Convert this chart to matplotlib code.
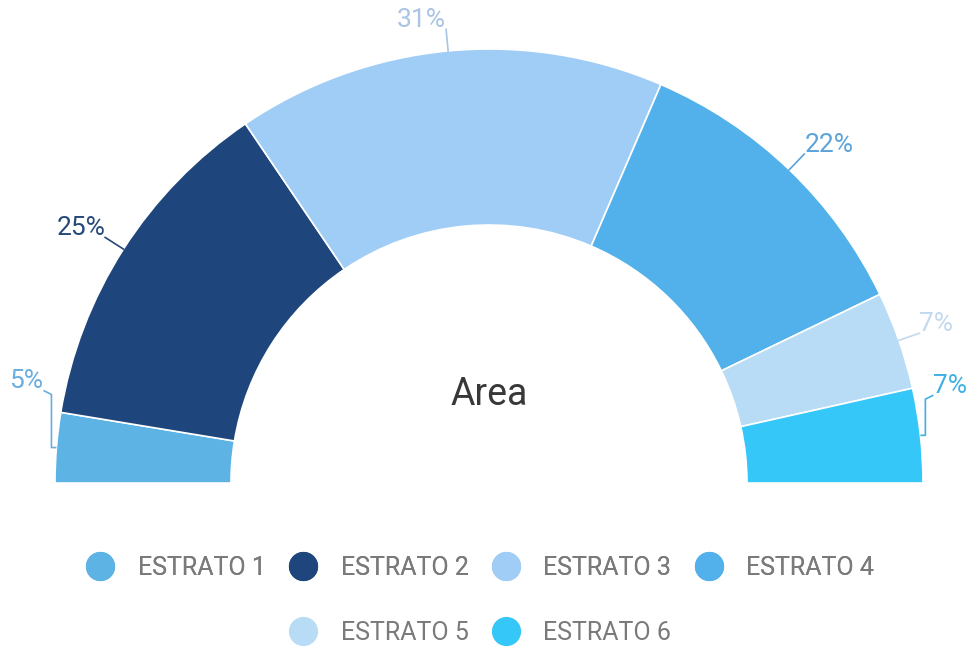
import numpy as np
import matplotlib.pyplot as plt
from matplotlib.lines import Line2D

plt.rcParams['font.family'] = ['Roboto', 'DejaVu Sans']

# data (share of each stratum, %)
categories = ['ESTRATO 1', 'ESTRATO 2', 'ESTRATO 3', 'ESTRATO 4', 'ESTRATO 5', 'ESTRATO 6']
shares = [5.2, 25.8, 31.9, 22.7, 7.3, 7.0]
colors = ['#5cb3e4', '#1f467c', '#a0cdf5', '#52b0ea', '#b8dcf6', '#34c7f8']
label_colors = ['#6aaedf', '#26497a', '#a9c4e4', '#5aa3dc', '#c2d9ef', '#3fb0e4']
title = 'Area'

W, H = 969, 647
R_PX = 434          # outer radius in pixels
RING_PX = 176       # ring thickness
CX, CY = 489, 483   # centre, pixels from top-left
px = 1.0 / R_PX

# small slices get a bent connector, label pushed upward to this angle
bracket_angles = {0: 168.8, 5: 10.6}

fig = plt.figure(figsize=(W / 100, H / 100), dpi=100)
ax = fig.add_axes([0, 0, 1, 1])

# hidden lower half makes the pie a semicircle
wedges, _ = ax.pie(shares + [sum(shares)], colors=colors + ['none'],
                   startangle=180, counterclock=False, radius=1.0,
                   wedgeprops=dict(width=RING_PX * px, edgecolor='white', linewidth=1.2))
wedges[-1].set_visible(False)

ax.set_xlim(-CX * px, (W - CX) * px)
ax.set_ylim(-(H - CY) * px, CY * px)
ax.set_aspect('equal')
ax.axis('off')

for i, w in enumerate(wedges[:-1]):
    mid = np.deg2rad((w.theta1 + w.theta2) / 2)
    x0, y0 = np.cos(mid), np.sin(mid)
    side = 1 if x0 > 0 else -1
    label = f'{int(shares[i])}%'
    if i in bracket_angles:
        la = np.deg2rad(bracket_angles[i])
        bx = x0 + side * 5 * px
        ly = 1.05 * np.sin(la)
        tx, ty = bx + side * 8 * px, ly + 4 * px
        ax.plot([x0, bx, bx, tx], [y0, y0, ly, ty],
                color=label_colors[i], lw=1.2, solid_capstyle='butt')
    else:
        tx, ty = 1.05 * x0, 1.05 * y0
        ax.plot([x0, tx], [y0, ty], color=label_colors[i], lw=1.2)
    ax.text(tx, ty + 9 * px, label, ha='left' if side > 0 else 'right', va='center',
            fontsize=19, color=label_colors[i])

ax.text(0, (CY - 395) * px, title, ha='center', va='center', fontsize=27, color='#383838')

handles = [Line2D([0], [0], marker='o', linestyle='none', markersize=20,
                  markerfacecolor=c, markeredgecolor=c) for c in colors]

leg_kw = dict(frameon=False, fontsize=18, handlelength=1.0, handletextpad=1.0,
              columnspacing=1.0, borderpad=0, loc='center', labelcolor='#7a7a7a')
leg1 = fig.legend(handles[:4], categories[:4], ncol=4,
                  bbox_to_anchor=(481 / W, 1 - 568 / H), **leg_kw)
fig.add_artist(leg1)
fig.legend(handles[4:], categories[4:], ncol=2,
           bbox_to_anchor=(481 / W, 1 - 633 / H), **leg_kw)

fig.savefig('out.png', dpi=100, facecolor='white')
